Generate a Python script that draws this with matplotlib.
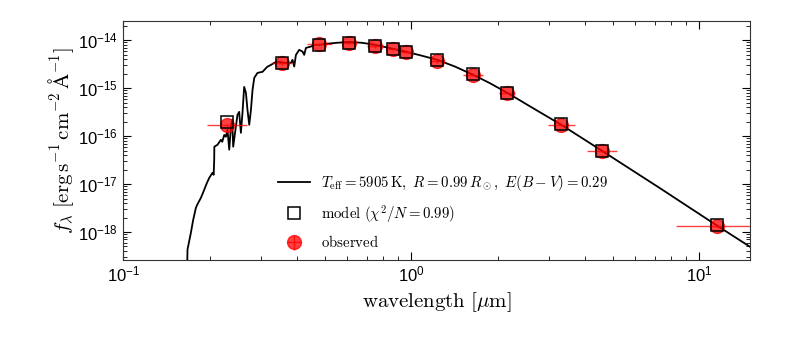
import matplotlib
matplotlib.use("agg")
import matplotlib.pyplot as plt
import numpy as np
from matplotlib.ticker import LogLocator, NullFormatter, FixedLocator

plt.rcParams["mathtext.fontset"] = "cm"
plt.rcParams["font.family"] = ["Liberation Sans", "DejaVu Sans"]

# model spectrum (micron, erg/s/cm2/A)
model_wave = [0.1664, 0.1672, 0.1718, 0.1750, 0.1788, 0.1807, 0.1862, 0.1911,
              0.1953, 0.1990, 0.2042, 0.2061, 0.2070, 0.2072, 0.2125, 0.2184,
              0.2207, 0.2243, 0.2273, 0.2302, 0.2334, 0.2366, 0.2390, 0.2409,
              0.2461, 0.2493, 0.2527, 0.2562, 0.2595, 0.2630, 0.2667, 0.2701,
              0.2739, 0.2776, 0.2812, 0.2851, 0.2926, 0.3046, 0.3162, 0.3257,
              0.3343, 0.3433, 0.3623, 0.3823, 0.3871, 0.3924, 0.3978, 0.4083,
              0.4193, 0.4250, 0.4309, 0.4485, 0.4604, 0.4797, 0.5070, 0.5495,
              0.6095, 0.6761, 0.7499, 0.866, 0.962, 1.066, 1.231, 1.422,
              1.641, 1.866, 2.154, 2.672, 3.318, 4.603, 7.26, 11.55, 16.16]
model_flux = [1.0e-19, 4.3e-19, 9.7e-19, 1.8e-18, 3.2e-18, 3.7e-18, 5.2e-18, 7.6e-18,
              1.06e-17, 1.35e-17, 1.72e-17, 1.56e-17, 3.2e-17, 6.0e-17, 6.6e-17, 8.4e-17,
              7.6e-17, 1.06e-16, 9.7e-17, 1.35e-16, 5.2e-17, 1.56e-16, 2.19e-16, 6.0e-17,
              1.56e-16, 2.78e-16, 3.2e-16, 1.17e-16, 3.05e-16, 1.06e-15, 8.0e-16, 3.5e-16,
              1.72e-16, 3.5e-16, 9.2e-16, 1.64e-15, 2.08e-15, 2.19e-15, 2.78e-15, 3.05e-15,
              3.36e-15, 3.58e-15, 3.36e-15, 3.36e-15, 3.89e-15, 2.82e-15, 4.94e-15, 6.28e-15,
              5.79e-15, 4.94e-15, 6.9e-15, 7.36e-15, 8.0e-15, 8.0e-15, 8.4e-15, 8.8e-15,
              9.2e-15, 8.8e-15, 8.0e-15, 6.6e-15, 5.7e-15, 4.9e-15, 3.9e-15, 2.8e-15,
              1.89e-15, 1.29e-15, 8.0e-16, 3.7e-16, 1.72e-16, 4.9e-17, 8.4e-18, 1.35e-18, 3.7e-19]

# photometry
obs_wave = [0.23, 0.356, 0.48, 0.61, 0.75, 0.866, 0.96, 1.23, 1.64, 2.15, 3.32, 4.6, 11.55]
obs_flux = [1.7e-16, 3.4e-15, 8.3e-15, 8.7e-15, 7.6e-15, 6.6e-15, 5.7e-15,
            3.7e-15, 1.9e-15, 7.9e-16, 1.7e-16, 4.9e-17, 1.35e-18]
obs_wave_lo = [0.196, 0.329, 0.433, 0.582, 0.704, 0.832, 0.922, 1.164, 1.514, 2.017, 2.98, 4.08, 8.32]
obs_wave_hi = [0.270, 0.386, 0.532, 0.640, 0.800, 0.901, 1.000, 1.300, 1.776, 2.292, 3.70, 5.18, 16.0]
obs_ferr = [0.1e-16, 0.3e-15, 0.6e-15, 0.5e-15, 0.7e-15, 0.4e-15, 0.4e-15,
            0.3e-15, 0.15e-15, 0.5e-16, 0.1e-16, 0.3e-17, 0.1e-18]
mod_flux = [2.0e-16, 3.3e-15, 8.1e-15, 8.9e-15, 7.7e-15, 6.5e-15, 5.6e-15,
            3.8e-15, 2.0e-15, 8.1e-16, 1.75e-16, 5.0e-17, 1.4e-18]

xticks = [0.1, 1, 10]
yticks = [1e-18, 1e-17, 1e-16, 1e-15, 1e-14]

legend_model_line = r"$T_\mathrm{eff} = 5905\,\mathrm{K},\ R = 0.99\,R_\odot,\ E(B-V) = 0.29$"
legend_model_pts = r"$\mathrm{model}\ (\chi^2/N = 0.99)$"
legend_obs = r"$\mathrm{observed}$"

fig = plt.figure(figsize=(8, 3.4), dpi=100)
ax = fig.add_axes([0.154, 0.235, 0.7835, 0.703])

line, = ax.plot(model_wave, model_flux, color="black", lw=1.3, zorder=2)

xw = np.array(obs_wave)
xerr = [xw - np.array(obs_wave_lo), np.array(obs_wave_hi) - xw]
obs = ax.errorbar(obs_wave, obs_flux, xerr=xerr, yerr=obs_ferr, fmt="o",
                  color="red", ms=10, alpha=0.75, elinewidth=1.0, capsize=0,
                  mec="red", zorder=3)
mod, = ax.plot(obs_wave, mod_flux, "s", ms=8, mfc="none", mec="black",
               mew=1.1, zorder=4)

ax.set_xscale("log")
ax.set_yscale("log")
ax.set_xlim(0.1, 15)
ax.set_ylim(2.6e-19, 2.5e-14)

ax.tick_params(which="both", direction="in", top=True, right=True, labelsize=12)
ax.tick_params(which="major", length=6)
ax.tick_params(which="minor", length=3)
ax.xaxis.set_major_locator(FixedLocator(xticks))
ax.yaxis.set_major_locator(FixedLocator(yticks))
ax.yaxis.set_minor_locator(LogLocator(base=10, subs=np.arange(2, 10), numticks=20))
ax.yaxis.set_minor_formatter(NullFormatter())
ax.xaxis.set_minor_formatter(NullFormatter())
for s in ax.spines.values():
    s.set_color("#333333")

ax.set_xlabel(r"$\mathrm{wavelength}\ [\mu\mathrm{m}]$", fontsize=15, labelpad=4)
ax.set_ylabel(r"$f_\lambda\ [\mathrm{erg\,s^{-1}\,cm^{-2}\,\AA^{-1}}]$", fontsize=15, labelpad=2)

ax.legend([line, mod, obs], [legend_model_line, legend_model_pts, legend_obs],
          loc="lower left", bbox_to_anchor=(0.225, -0.015), frameon=False,
          fontsize=10.7, handlelength=2.2, handletextpad=0.7, labelspacing=0.65)

fig.savefig("out.png", dpi=100)
